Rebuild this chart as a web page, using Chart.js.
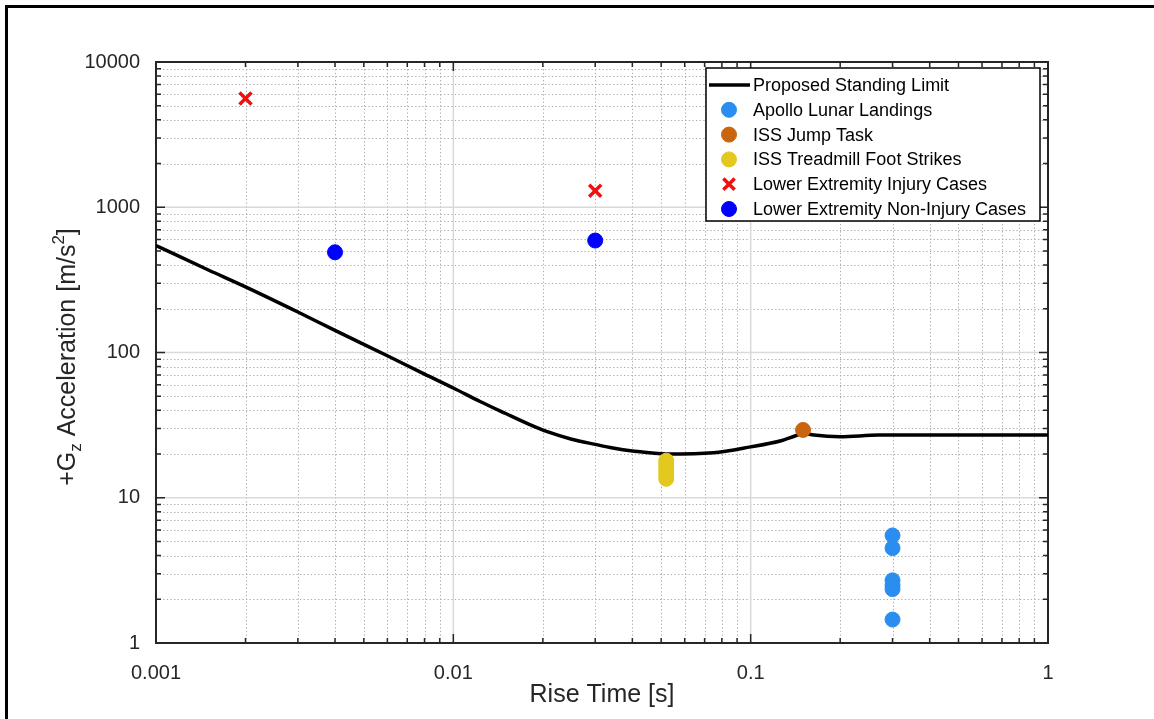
<!DOCTYPE html>
<html>
<head>
<meta charset="utf-8">
<script src="https://cdn.jsdelivr.net/npm/chart.js@4.4.1/dist/chart.umd.min.js"></script>
<style>
    html, body { margin: 0; padding: 0; background: #fff; }
    #wrap { position: relative; width: 1154px; height: 719px; overflow: hidden; }
    #frame { position: absolute; left: 5px; top: 5px; width: 1300px; height: 900px; border-left: 3px solid #000; border-top: 3px solid #000; pointer-events: none; }
    canvas { position: absolute; left: 0; top: 0; }
</style>
</head>
<body>
<div id="wrap">
    <canvas id="chart" width="1154" height="719"></canvas>
    <div id="frame"></div>
</div>
<script>
// tick decades
const xDecades = [0.001, 0.01, 0.1, 1];
const yDecades = [1, 10, 100, 1000, 10000];

// proposed standing limit curve
const limitTime = [0.001, 0.0015, 0.002, 0.003, 0.004, 0.006, 0.008, 0.01, 0.0123, 0.015, 0.018, 0.0207, 0.025, 0.03, 0.0344, 0.04, 0.0523, 0.0748, 0.1, 0.1256, 0.14, 0.15, 0.163, 0.2, 0.27, 0.4, 1];
const limitAccel = [545, 370, 283, 190, 142, 95, 71, 57, 46, 38, 32, 28.5, 25.3, 23.3, 22, 21, 20, 20.4, 22.4, 24.6, 26.5, 27.8, 27, 26.3, 27, 27, 27];

// data points
const apolloTime = [0.3, 0.3, 0.3, 0.3, 0.3, 0.3];
const apolloAccel = [5.5, 4.5, 2.7, 2.5, 2.35, 1.45];
const jumpTime = [0.15];
const jumpAccel = [29.3];
const treadmillTime = [0.052, 0.052, 0.052, 0.052, 0.052, 0.052];
const treadmillAccel = [18, 17, 16.1, 15.2, 14.3, 13.5];
const injuryTime = [0.002, 0.03];
const injuryAccel = [5600, 1300];
const nonInjuryTime = [0.004, 0.03];
const nonInjuryAccel = [490, 590];

const FONT = '"Liberation Sans", Arial, Helvetica, sans-serif';
const AXIS_COLOR = "#262626";

function toPoints(xs, ys) {
    return xs.map((x, i) => ({ x: x, y: ys[i] }));
}

function logTicks(decades) {
    const ticks = [];
    decades.forEach((d, i) => {
        const last = i === decades.length - 1;
        for (let k = 1; k <= (last ? 1 : 9); k++) {
            ticks.push({ value: Number((d * k).toPrecision(6)) });
        }
    });
    return ticks;
}

function scatterSet(label, xs, ys, color, style) {
    const cross = style === "crossRot";
    return {
        label: label,
        data: toPoints(xs, ys),
        pointStyle: style,
        pointRadius: cross ? 8.5 : 7.5,
        pointBackgroundColor: color,
        pointBorderColor: color,
        pointBorderWidth: cross ? 3.5 : 1,
        showLine: false,
        order: 0
    };
}

const axesPlugin = {
    id: "axesPlugin",
    beforeDatasetsDraw(chart) {
        const { ctx, chartArea: a, scales: { x, y } } = chart;
        ctx.save();
        // minor dotted grid
        ctx.lineWidth = 1;
        ctx.strokeStyle = "#ababab";
        ctx.setLineDash([1.3, 2.3]);
        ctx.beginPath();
        x.ticks.forEach((t) => {
            if (xDecades.includes(t.value)) return;
            const px = Math.round(x.getPixelForValue(t.value)) + 0.5;
            ctx.moveTo(px, a.top); ctx.lineTo(px, a.bottom);
        });
        y.ticks.forEach((t) => {
            if (yDecades.includes(t.value)) return;
            const py = Math.round(y.getPixelForValue(t.value)) + 0.5;
            ctx.moveTo(a.left, py); ctx.lineTo(a.right, py);
        });
        ctx.stroke();
        // major solid grid
        ctx.setLineDash([]);
        ctx.strokeStyle = "#d9d9d9";
        ctx.lineWidth = 1.5;
        ctx.beginPath();
        xDecades.forEach((v) => {
            const px = x.getPixelForValue(v);
            ctx.moveTo(px, a.top); ctx.lineTo(px, a.bottom);
        });
        yDecades.forEach((v) => {
            const py = y.getPixelForValue(v);
            ctx.moveTo(a.left, py); ctx.lineTo(a.right, py);
        });
        ctx.stroke();
        // inward ticks on all four sides
        ctx.strokeStyle = AXIS_COLOR;
        ctx.lineWidth = 1.5;
        ctx.beginPath();
        x.ticks.forEach((t) => {
            const px = x.getPixelForValue(t.value);
            const len = xDecades.includes(t.value) ? 9 : 5;
            ctx.moveTo(px, a.bottom); ctx.lineTo(px, a.bottom - len);
            ctx.moveTo(px, a.top); ctx.lineTo(px, a.top + len);
        });
        y.ticks.forEach((t) => {
            const py = y.getPixelForValue(t.value);
            const len = yDecades.includes(t.value) ? 9 : 5;
            ctx.moveTo(a.left, py); ctx.lineTo(a.left + len, py);
            ctx.moveTo(a.right, py); ctx.lineTo(a.right - len, py);
        });
        ctx.stroke();
        // box
        ctx.lineWidth = 2;
        ctx.strokeRect(a.left, a.top, a.right - a.left, a.bottom - a.top);
        ctx.restore();
    },
    afterDatasetsDraw(chart) {
        const { ctx } = chart;
        ctx.save();
        // legend
        const left = 706, top = 68, right = 1040, rowH = 24.8;
        const sets = chart.data.datasets;
        const bottom = top + 17 + rowH * (sets.length - 1) + 12;
        ctx.fillStyle = "#fff";
        ctx.fillRect(left, top, right - left, bottom - top);
        ctx.strokeStyle = "#000";
        ctx.lineWidth = 1.5;
        ctx.strokeRect(left, top, right - left, bottom - top);
        ctx.font = "18px " + FONT;
        ctx.textBaseline = "middle";
        ctx.textAlign = "left";
        sets.forEach((ds, i) => {
            const cy = top + 17 + rowH * i;
            if (ds.showLine) {
                ctx.strokeStyle = ds.borderColor;
                ctx.lineWidth = ds.borderWidth;
                ctx.beginPath();
                ctx.moveTo(709, cy); ctx.lineTo(750, cy);
                ctx.stroke();
            } else {
                ctx.fillStyle = ds.pointBackgroundColor;
                ctx.strokeStyle = ds.pointBorderColor;
                ctx.lineWidth = ds.pointBorderWidth;
                Chart.helpers.drawPoint(ctx, {
                    pointStyle: ds.pointStyle,
                    rotation: 0,
                    radius: ds.pointStyle === "crossRot" ? 8 : 7.5,
                    borderWidth: ds.pointBorderWidth
                }, 729, cy);
            }
            ctx.fillStyle = "#000";
            ctx.fillText(ds.label, 753, cy + 1);
        });
        ctx.restore();
    },
    afterDraw(chart) {
        // y axis title with subscript and superscript
        const { ctx } = chart;
        const big = "25px " + FONT, small = "17px " + FONT;
        const parts = [
            { t: "+G", f: big, dy: 0 },
            { t: "z", f: small, dy: 6 },
            { t: " Acceleration [m/s", f: big, dy: 0 },
            { t: "2", f: small, dy: -11 },
            { t: "]", f: big, dy: 0 }
        ];
        ctx.save();
        let total = 0;
        parts.forEach((p) => { ctx.font = p.f; p.w = ctx.measureText(p.t).width; total += p.w; });
        ctx.translate(75, 357);
        ctx.rotate(-Math.PI / 2);
        ctx.fillStyle = AXIS_COLOR;
        ctx.textBaseline = "alphabetic";
        ctx.textAlign = "left";
        let cx = -total / 2;
        parts.forEach((p) => { ctx.font = p.f; ctx.fillText(p.t, cx, p.dy); cx += p.w; });
        ctx.restore();
    }
};

new Chart(document.getElementById("chart").getContext("2d"), {
    type: "scatter",
    data: {
        datasets: [
            {
                label: "Proposed Standing Limit",
                data: toPoints(limitTime, limitAccel),
                showLine: true,
                borderColor: "#000000",
                borderWidth: 3.5,
                pointRadius: 0,
                tension: 0.4,
                cubicInterpolationMode: "monotone",
                fill: false,
                order: 10
            },
            scatterSet("Apollo Lunar Landings", apolloTime, apolloAccel, "#2a8ef0", "circle"),
            scatterSet("ISS Jump Task", jumpTime, jumpAccel, "#c9650f", "circle"),
            scatterSet("ISS Treadmill Foot Strikes", treadmillTime, treadmillAccel, "#e3c81f", "circle"),
            scatterSet("Lower Extremity Injury Cases", injuryTime, injuryAccel, "#f01010", "crossRot"),
            scatterSet("Lower Extremity Non-Injury Cases", nonInjuryTime, nonInjuryAccel, "#0000ff", "circle")
        ]
    },
    options: {
        responsive: false,
        animation: false,
        layout: { padding: { top: 62, right: 106, left: 0, bottom: 0 } },
        plugins: { legend: { display: false }, tooltip: { enabled: false } },
        scales: {
            x: {
                type: "logarithmic",
                position: "bottom",
                min: 0.001,
                max: 1,
                grid: { display: false },
                border: { display: false },
                afterBuildTicks: (scale) => { scale.ticks = logTicks(xDecades); },
                afterFit: (scale) => { scale.height = 76; },
                ticks: {
                    autoSkip: false,
                    maxRotation: 0,
                    padding: 10,
                    color: AXIS_COLOR,
                    font: { family: FONT, size: 20 },
                    callback: (value) => (xDecades.includes(value) ? String(value) : "")
                },
                title: {
                    display: true,
                    text: "Rise Time [s]",
                    color: AXIS_COLOR,
                    font: { family: FONT, size: 25 },
                    padding: { top: 0, bottom: 9 }
                }
            },
            y: {
                type: "logarithmic",
                position: "left",
                min: 1,
                max: 10000,
                grid: { display: false },
                border: { display: false },
                afterBuildTicks: (scale) => { scale.ticks = logTicks(yDecades); },
                afterFit: (scale) => { scale.width = 156; },
                ticks: {
                    autoSkip: false,
                    padding: 8,
                    color: AXIS_COLOR,
                    font: { family: FONT, size: 20 },
                    callback: (value) => (yDecades.includes(value) ? String(value) : "")
                }
            }
        }
    },
    plugins: [axesPlugin]
});
</script>
</body>
</html>
